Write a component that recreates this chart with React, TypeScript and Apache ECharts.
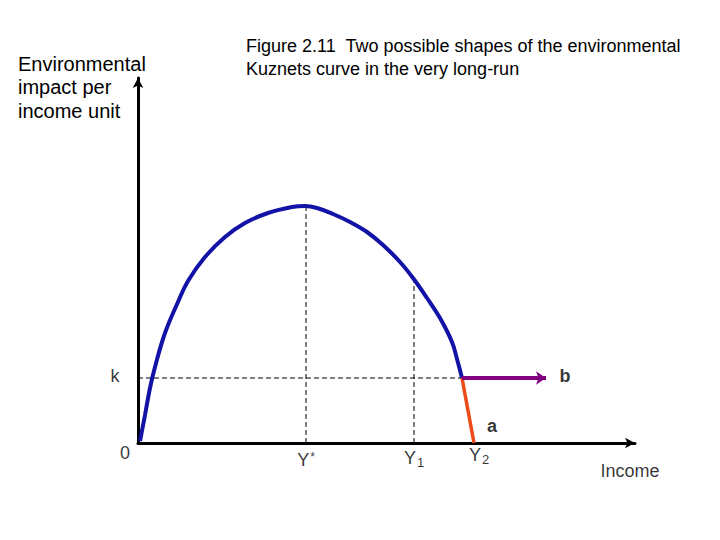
import React, { useEffect, useRef } from "react";
import * as echarts from "echarts";

// Data coordinates: x = income (0 at origin), y = environmental impact per income unit
const curveX = [2, 7, 12, 17, 27, 40, 50, 67, 87, 107, 130, 154, 167, 179, 195, 212, 229, 245, 262, 275, 289, 302, 314, 319, 324];
const curveY = [2, 28, 55, 76, 110, 141, 162, 186, 206, 220, 230, 236, 237, 235, 229, 221, 211, 198, 181, 165, 145, 125, 101, 84, 65];

const kLevel = 65;
const yStar = 168;
const yStarPeak = 237;
const y1 = 276;
const y1Level = 163;
const y2 = 336;
const turnX = 324;
const pathBEnd = 408;

const xMax = 497;
const yMax = 365;

const annotTexts = ["k", "0", "Y*", "Y1", "Y2", "a", "b", "Income"];
const annotX = [-23, -13, 168, 276, 341, 354, 427, 492];
const annotY = [67, -10, -17, -15, -12, 17, 67, -28];
const annotBold = [false, false, false, false, false, true, true, false];

const fmtLabel = (t: string) => {
  if (t === "Y*") return "Y{sup|*}";
  if (t === "Y1") return "Y{sub|1}";
  if (t === "Y2") return "Y{sub|2}";
  return t;
};

export default function App() {
  const ref = useRef<HTMLDivElement>(null);
  useEffect(() => {
    if (!ref.current) return;
    const chart = echarts.init(ref.current, undefined, { renderer: "svg" });
    const font = "'Liberation Sans', Arial, sans-serif";
    const dashed = { color: "#000", width: 1, type: [5, 3] as any };
    chart.setOption({
      animation: false,
      backgroundColor: "#ffffff",
      textStyle: { fontFamily: font },
      grid: { left: 138, right: 85, top: 78, bottom: 97 },
      xAxis: {
        type: "value",
        min: 0,
        max: xMax,
        axisLine: {
          show: true,
          symbol: ["none", "arrow"],
          symbolSize: [8, 10],
          lineStyle: { color: "#000", width: 3 },
        },
        axisTick: { show: false },
        axisLabel: { show: false },
        splitLine: { show: false },
      },
      yAxis: {
        type: "value",
        min: 0,
        max: yMax,
        axisLine: {
          show: true,
          symbol: ["none", "arrow"],
          symbolSize: [8, 10],
          lineStyle: { color: "#000", width: 3 },
        },
        axisTick: { show: false },
        axisLabel: { show: false },
        splitLine: { show: false },
      },
      graphic: [
        {
          type: "text",
          left: 246,
          top: 34,
          style: {
            text: "Figure 2.11  Two possible shapes of the environmental\nKuznets curve in the very long-run",
            font: `18px ${font}`,
            lineHeight: 23,
            fill: "#000",
          },
        },
        {
          type: "text",
          left: 18,
          top: 52,
          style: {
            text: "Environmental\nimpact per\nincome unit",
            font: `20px ${font}`,
            lineHeight: 23.5,
            fill: "#000",
          },
        },
      ],
      series: [
        {
          type: "line",
          data: [[0, kLevel], [turnX, kLevel]],
          showSymbol: false,
          lineStyle: dashed,
          silent: true,
          z: 1,
        },
        {
          type: "line",
          data: [[yStar, 0], [yStar, yStarPeak]],
          showSymbol: false,
          lineStyle: dashed,
          silent: true,
          z: 1,
        },
        {
          type: "line",
          data: [[y1, 0], [y1, y1Level]],
          showSymbol: false,
          lineStyle: dashed,
          silent: true,
          z: 1,
        },
        {
          type: "line",
          data: curveX.map((x, i) => [x, curveY[i]]),
          smooth: 0.4,
          showSymbol: false,
          lineStyle: { color: "#1212A6", width: 4 },
          silent: true,
          z: 3,
        },
        {
          type: "line",
          data: [[turnX, kLevel], [y2, 0]],
          showSymbol: false,
          lineStyle: { color: "#EE4A18", width: 3.5 },
          silent: true,
          z: 3,
        },
        {
          type: "line",
          data: [],
          silent: true,
          markLine: {
            silent: true,
            symbol: ["none", "arrow"],
            symbolSize: [10, 10],
            label: { show: false },
            lineStyle: { color: "#800080", width: 4, type: "solid" },
            data: [[{ coord: [turnX, kLevel] }, { coord: [pathBEnd, kLevel] }]],
          },
          z: 4,
        },
        {
          type: "scatter",
          clip: false,
          silent: true,
          symbolSize: 1,
          itemStyle: { color: "rgba(0,0,0,0)" },
          data: annotTexts.map((t, i) => ({
            value: [annotX[i], annotY[i]],
            name: t,
            label: { fontWeight: annotBold[i] ? "bold" : "normal" },
          })),
          label: {
            show: true,
            position: "inside",
            color: "#000",
            fontSize: 18,
            fontFamily: font,
            formatter: (p: any) => fmtLabel(p.name),
            rich: {
              sub: { fontSize: 13, padding: [9, 0, 0, 1], fontFamily: font, color: "#000" },
              sup: { fontSize: 12, padding: [0, 0, 6, 1], fontFamily: font, color: "#000" },
            },
          },
          labelLayout: { hideOverlap: false },
          z: 5,
        },
      ],
    });
    return () => chart.dispose();
  }, []);
  return (
    <div
      ref={ref}
      style={{ position: "fixed", left: 0, top: 0, width: 720, height: 540, background: "#fff" }}
    />
  );
}
